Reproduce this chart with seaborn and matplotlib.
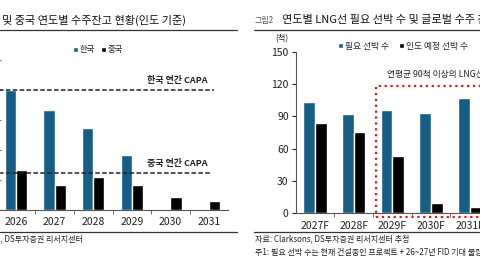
import matplotlib
matplotlib.use("Agg")
import matplotlib.pyplot as plt
from matplotlib.patches import Rectangle
import seaborn as sns
import pandas as pd
import numpy as np

sns.set_style("ticks")
plt.rcParams['font.family'] = ['Noto Sans CJK KR', 'DejaVu Sans']

BLUE = "#175e84"
BLACK = "#000000"

# left chart: backlog by delivery year (units, no axis visible)
years_l = ["2026", "2027", "2028", "2029", "2030", "2031"]
korea = [80, 67, 55, 37, np.nan, np.nan]
china = [27, 17, 22, 17, 9, 6]
korea_capa = 80
china_capa = 25

# right chart: LNG carriers needed vs scheduled deliveries
years_r = ["2027F", "2028F", "2029F", "2030F", "2031F"]
needed = [103, 92, 96, 93, 107]
delivered = [84, 75, 53, 9, 6]

W, H = 480, 270
fig = plt.figure(figsize=(4.8, 2.7), dpi=100)

def fx(x):
    return x / W

def fy(y):
    return 1 - y / H

# ---- left chart
axl = fig.add_axes([fx(-3.4), fy(210), fx(231.8), 150 / H])
dl = pd.DataFrame({"year": years_l * 2,
                   "val": korea + china,
                   "who": ["한국"] * 6 + ["중국"] * 6})
sns.barplot(data=dl, x="year", y="val", hue="who", palette=[BLUE, BLACK],
            width=0.58, ax=axl, saturation=1)
axl.set_xlim(-0.5, 5.5)
axl.set_ylim(0, 100)
axl.axhline(korea_capa, xmax=0.94, color="#222222", ls=(0, (3, 1.5)), lw=1.1)
axl.axhline(china_capa, xmax=0.93, color="#222222", ls=(0, (3, 1.5)), lw=1.1)
axl.text(3.4, korea_capa + 3, "한국 연간 CAPA", fontsize=6.5, fontweight="bold", va="bottom")
axl.text(3.4, china_capa + 3, "중국 연간 CAPA", fontsize=6.5, fontweight="bold", va="bottom")
axl.set_yticks([0, 20, 40, 60, 80, 100])
axl.set_yticklabels([])
axl.tick_params(axis="y", direction="in", length=3, color="#777777")
axl.set_xlabel("")
axl.set_ylabel("")
axl.tick_params(axis="x", length=0, labelsize=7.5, pad=5, colors="#222222")
axl.set_xticks(np.arange(0.5, 5.5, 1), minor=True)
axl.tick_params(axis="x", which="minor", length=3, color="#555555")
sns.despine(ax=axl)
axl.spines["bottom"].set_color("#555555")
axl.spines["left"].set_visible(False)
h, lab = axl.get_legend_handles_labels()
axl.legend(h, lab, ncol=2, frameon=False, fontsize=6, handlelength=0.55, handleheight=0.55,
           handletextpad=0.2, columnspacing=0.8, loc="center",
           bbox_to_anchor=(fx(98), fy(50)), bbox_transform=fig.transFigure)

# ---- right chart
axr = fig.add_axes([fx(295.6), fy(213), fx(5 * 38.7), 161 / H])
dr = pd.DataFrame({"year": years_r * 2,
                   "val": needed + delivered,
                   "who": ["필요 선박 수"] * 5 + ["인도 예정 선박 수"] * 5})
sns.barplot(data=dr, x="year", y="val", hue="who", palette=[BLUE, BLACK],
            width=0.6, ax=axr, saturation=1)
axr.set_xlim(-0.5, 4.5)
axr.set_ylim(0, 150)
axr.set_yticks([0, 30, 60, 90, 120, 150])
axr.tick_params(axis="y", length=3, labelsize=7.5, colors="#222222", pad=2)
axr.set_xlabel("")
axr.set_ylabel("")
axr.tick_params(axis="x", length=0, labelsize=7.5, pad=6, colors="#222222")
axr.set_xticks(np.arange(0.5, 4.5, 1), minor=True)
axr.tick_params(axis="x", which="minor", length=3, color="#555555")
sns.despine(ax=axr)
axr.spines["bottom"].set_color("#555555")
axr.spines["left"].set_color("#555555")
axr.add_patch(Rectangle((1.58, -3.7), 5, 122, fill=False, ec="#e01818", ls=":", lw=1.6,
                        clip_on=False))
axr.text(1.86, 125, "연평균 90척 이상의 LNG선 필요", fontsize=6.3, va="bottom", color="#222222")
h, lab = axr.get_legend_handles_labels()
axr.legend(h, lab, ncol=2, frameon=False, fontsize=6.3, handlelength=0.55, handleheight=0.55,
           handletextpad=0.25, columnspacing=1.2, loc="center left",
           bbox_to_anchor=(fx(330), fy(46)), bbox_transform=fig.transFigure)

# ---- titles, rules, sources
fig.text(fx(186), fy(20), "한국 및 중국 연도별 수주잔고 현황(인도 기준)", fontsize=8.0,
         ha="right", va="center", color="#111111")
fig.text(fx(255), fy(20), "그림2", fontsize=5.8, va="center", color="#555555")
fig.text(fx(282), fy(20), "연도별 LNG선 필요 선박 수 및 글로벌 수주 잔고", fontsize=8.0,
         va="center", color="#111111")
fig.text(fx(275), fy(39), "(척)", fontsize=6, va="center", color="#222222")
for x0, x1 in [(0, 237), (254, 480)]:
    fig.add_artist(plt.Line2D([fx(x0), fx(x1)], [fy(29.5)] * 2, color="#333333", lw=0.9))
    fig.add_artist(plt.Line2D([fx(x0), fx(x1)], [fy(232)] * 2, color="#333333", lw=0.9))
fig.text(fx(83), fy(239), "자료: Clarksons, DS투자증권 리서치센터", fontsize=5.8,
         ha="right", va="center", color="#222222")
fig.text(fx(255), fy(239), "자료: Clarksons, DS투자증권 리서치센터 추정", fontsize=5.8,
         va="center", color="#222222")
fig.text(fx(255), fy(253), "주1: 필요 선박 수는 현재 건설중인 프로젝트 + 26~27년 FID 기대 물량 기준",
         fontsize=5.8, va="center", color="#222222")

fig.savefig("out.png", dpi=100)
